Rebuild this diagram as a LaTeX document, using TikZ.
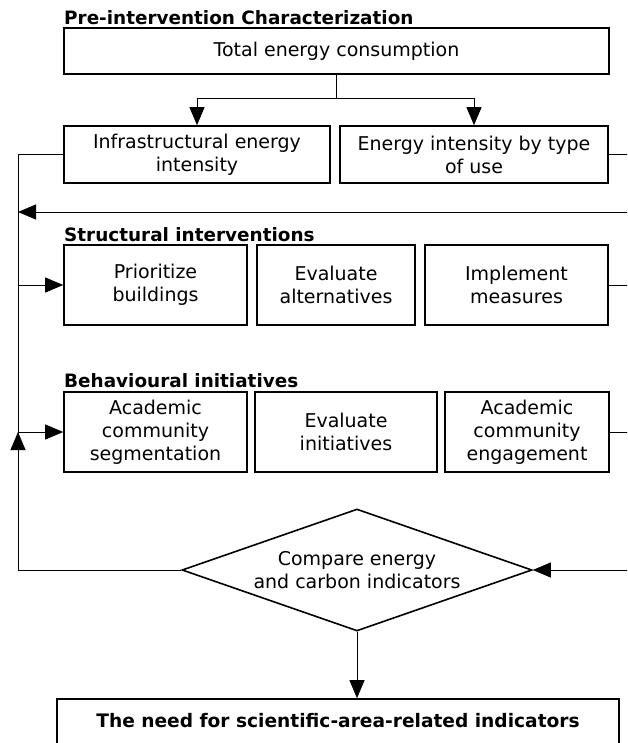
\documentclass[tikz,border=0pt]{standalone}
\usepackage{fontspec}
\setmainfont{DejaVu Sans}
\usetikzlibrary{arrows.meta,shapes.geometric}
\begin{document}
\begin{tikzpicture}[x=1pt,y=-1pt,
  box/.style={draw,line width=1.6pt,inner sep=0pt,align=center,font=\fontsize{19}{23}\selectfont},
  ttl/.style={anchor=base west,inner sep=0pt,font=\fontsize{18.4}{22}\selectfont\bfseries},
  conn/.style={line width=0.9pt},
  arr/.style={conn,-{Triangle[length=18pt,width=15pt]}}]
\clip (0,0) rectangle (627,743);
% titles
\node[ttl] (t1) at (64,25) {Pre-intervention Characterization};
\node[ttl] (t2) at (64,241) {Structural interventions};
\node[ttl] (t3) at (64,387) {Behavioural initiatives};
% boxes
\node[box,minimum width=545pt,minimum height=46pt] (A) at (336.5,51) {Total energy consumption};
\node[box,minimum width=266pt,minimum height=57pt] (B1) at (197,154.5) {Infrastructural energy\\intensity};
\node[box,minimum width=268pt,minimum height=57pt] (B2) at (474,154.5) {Energy intensity by type\\of use};
\node[box,minimum width=183pt,minimum height=80pt] (C1) at (155.5,285) {Prioritize\\buildings};
\node[box,minimum width=158pt,minimum height=80pt] (C2) at (336,285) {Evaluate\\alternatives};
\node[box,minimum width=183pt,minimum height=80pt] (C3) at (516.5,285) {Implement\\measures};
\node[box,minimum width=183pt,minimum height=80pt] (D1) at (155.5,432) {Academic\\community\\segmentation};
\node[box,minimum width=182pt,minimum height=80pt] (D2) at (346,432) {Evaluate\\initiatives};
\node[box,minimum width=164pt,minimum height=80pt] (D3) at (527,432) {Academic\\community\\engagement};
\node[box,shape=diamond,aspect=2.87,minimum width=350pt,minimum height=122pt] (X) at (357,570) {Compare energy\\and carbon indicators};
\node[box,minimum width=562pt,minimum height=48pt,text depth=6pt,font=\fontsize{18.6}{22}\selectfont\bfseries] (E) at (338,723) {The need for scientific-area-related indicators};
% coordinates
\coordinate (j1) at (336.5,98);
\coordinate (Ltop) at (18,154.5);
\coordinate (Lbot) at (18,570);
\coordinate (Jt) at (18,212);
\coordinate (Jc) at (18,285);
\coordinate (Jd) at (18,432);
\coordinate (R0) at (640,154.5);
\coordinate (R1) at (640,212);
\coordinate (R2) at (640,285);
\coordinate (R3) at (640,432);
\coordinate (R4) at (640,570);
% connectors
\draw[conn] (A.south) -- (j1);
\draw[arr] (j1) -| (B1.north);
\draw[arr] (j1) -| (B2.north);
\draw[conn] (B1.west) -- (Ltop) -- (Lbot) -- (X.west);
\draw[arr] (Lbot) -- (Jd);
\draw[arr] (R1) -- (Jt);
\draw[arr] (Jc) -- (C1.west);
\draw[arr] (Jd) -- (D1.west);
\draw[conn] (B2.east) -- (R0);
\draw[conn] (C3.east) -- (R2);
\draw[conn] (D3.east) -- (R3);
\draw[arr] (R4) -- (X.east);
\draw[arr] (X.south) -- (X.south |- E.north);
\end{tikzpicture}
\end{document}
